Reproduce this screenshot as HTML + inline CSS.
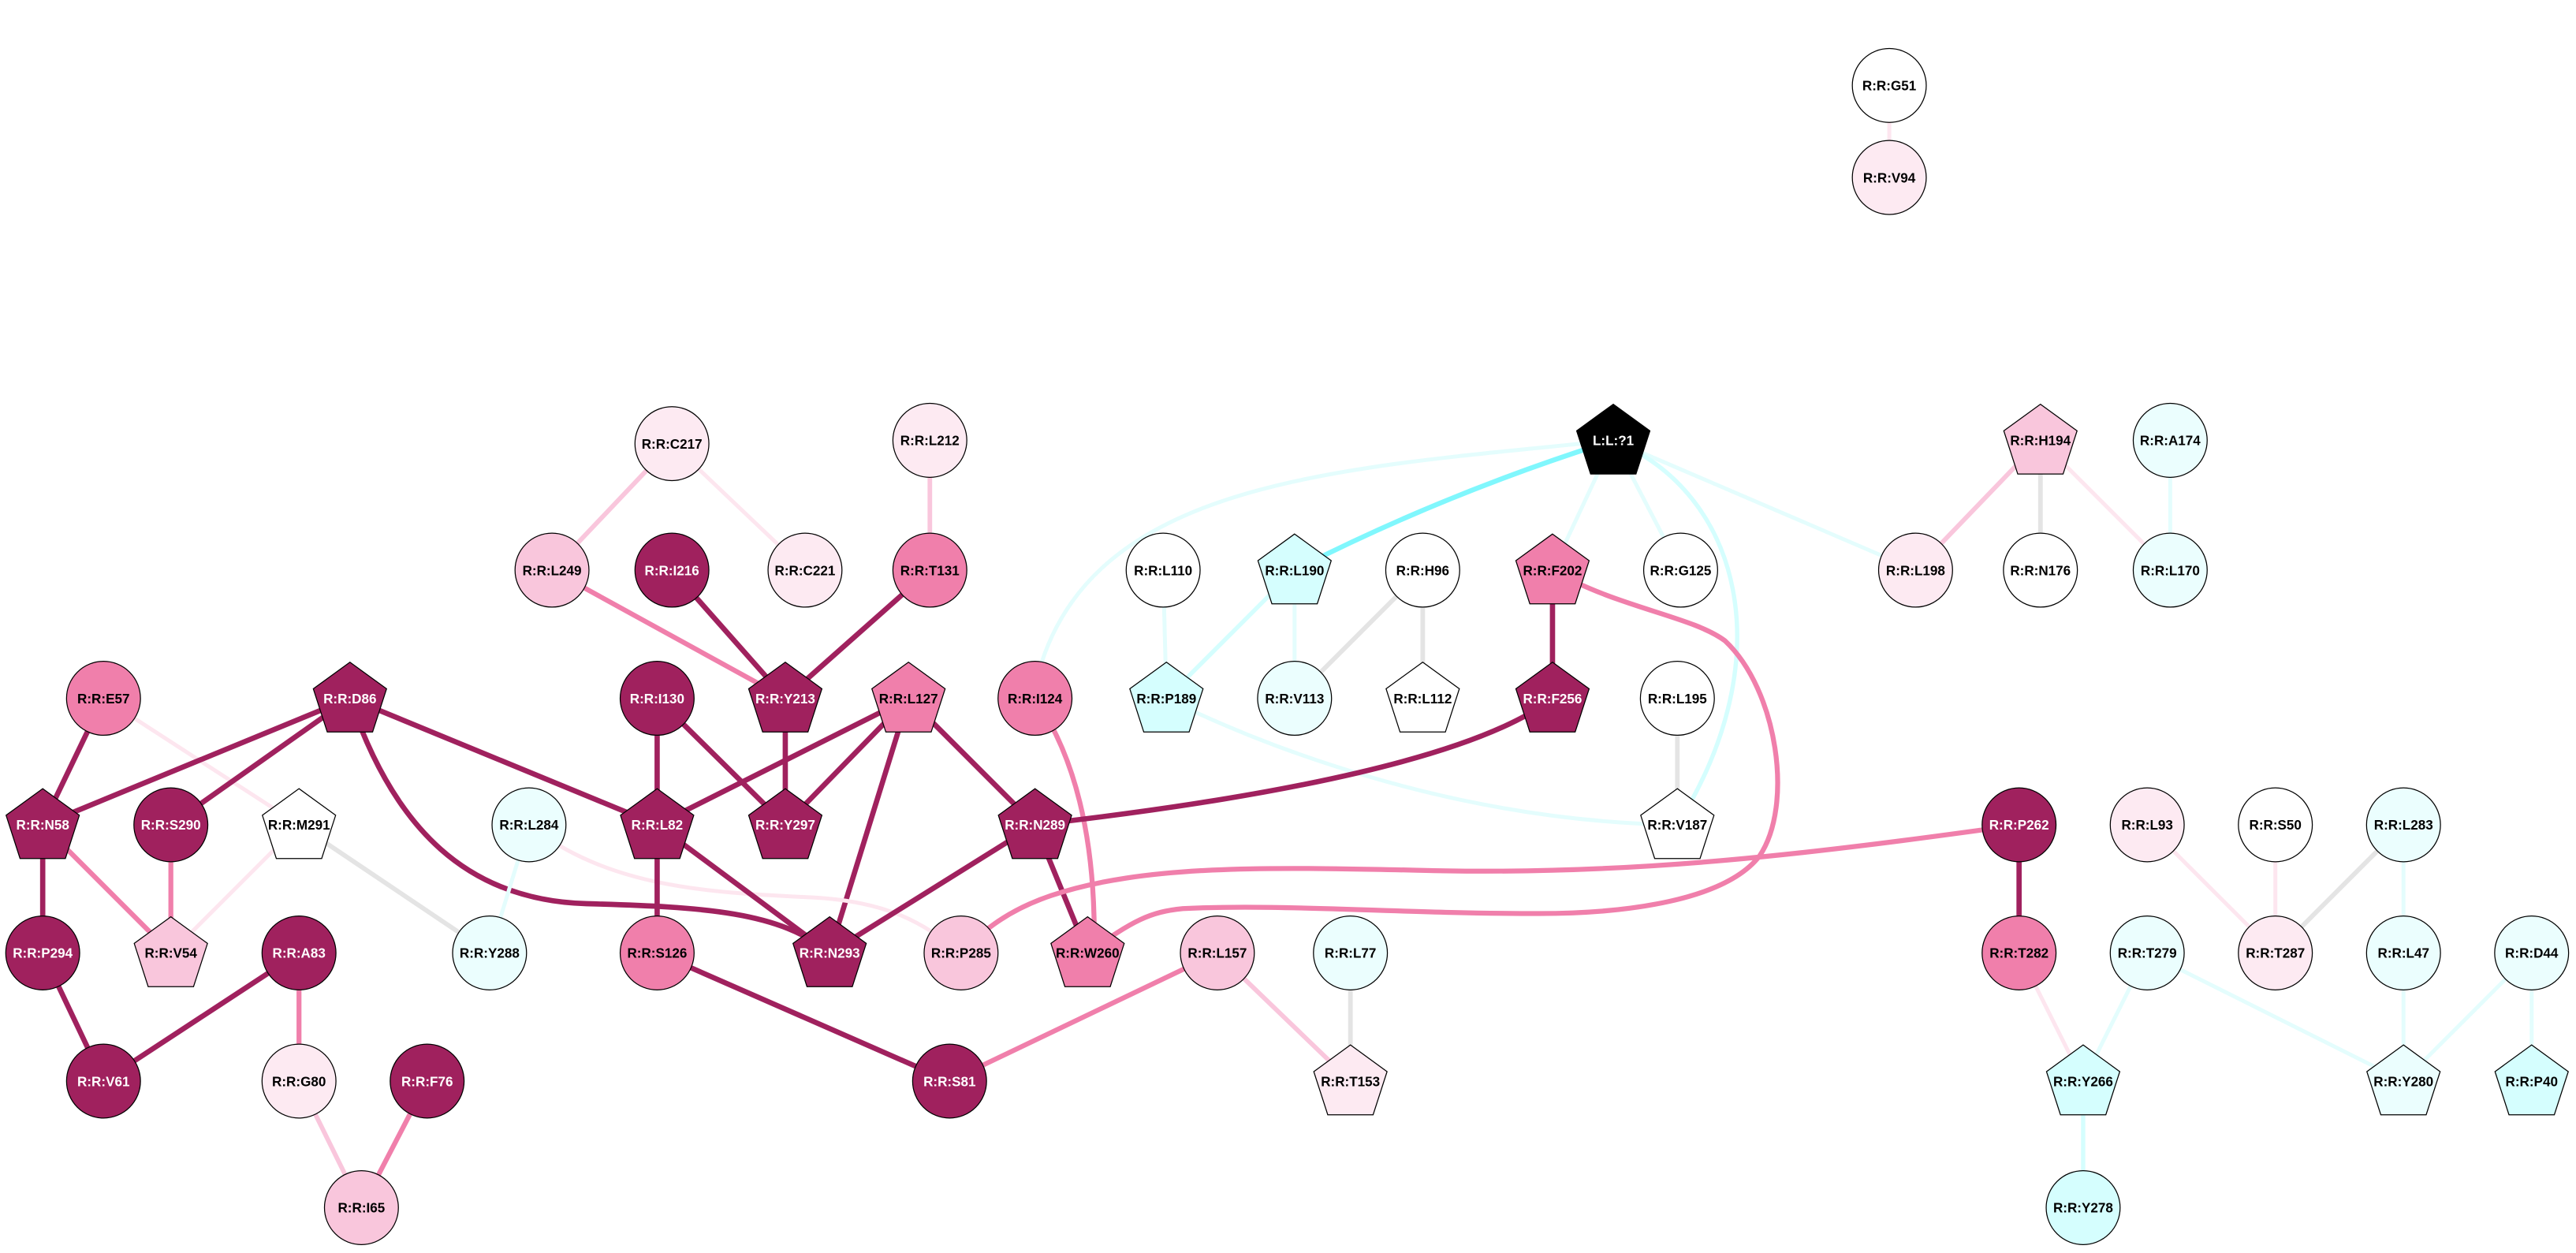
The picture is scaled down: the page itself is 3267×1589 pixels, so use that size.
<!DOCTYPE html>
<html><head><meta charset="utf-8"><style>html,body{margin:0;padding:0;background:#fff}svg{display:block}</style></head>
<body>
<svg id="s" xmlns="http://www.w3.org/2000/svg" width="3267" height="1589" viewBox="0 0 1568 762.6">
<rect width="1568" height="763" fill="#fff"/>
<g id="e" fill="none" stroke-linecap="butt"></g>
<g id="n"></g>
</svg>
<script>
const C={D:'#a0215e',M:'#f07fab',P:'#f9c6dc',L:'#fdeaf2',W:'#ffffff',C:'#d5fefe',c:'#ebfefe',K:'#000000'};
const N={
G51:[1150,52,'o','W'],V94:[1150,108,'o','L'],C217:[409,270,'o','L'],L212:[566,268,'o','L'],H194:[1242,268,'p','P'],A174:[1321,268,'o','c'],
'L:L:?1':[982,268,'p','K'],L249:[336,347,'o','P'],I216:[409,347,'o','D'],C221:[490,347,'o','L'],T131:[566,347,'o','M'],L110:[708,347,'o','W'],
L190:[788,347,'p','C'],H96:[866,347,'o','W'],F202:[945,347,'p','M'],G125:[1023,347,'o','W'],L198:[1166,347,'o','L'],N176:[1242,347,'o','W'],L170:[1321,347,'o','c'],
E57:[63,425,'o','M'],D86:[213,425,'p','D'],I130:[400,425,'o','D'],Y213:[478,425,'p','D'],L127:[553,425,'p','M'],I124:[630,425,'o','M'],P189:[710,425,'p','C'],
V113:[788,425,'o','c'],L112:[866,425,'p','W'],F256:[945,425,'p','D'],L195:[1021,425,'o','W'],
N58:[26,502,'p','D'],S290:[104,502,'o','D'],M291:[182,502,'p','W'],L284:[322,502,'o','c'],L82:[400,502,'p','D'],Y297:[478,502,'p','D'],N289:[630,502,'p','D'],
V187:[1021,502,'p','W'],P262:[1229,502,'o','D'],L93:[1307,502,'o','L'],S50:[1385,502,'o','W'],L283:[1463,502,'o','c'],
P294:[26,580,'o','D'],V54:[104,580,'p','P'],A83:[182,580,'o','D'],Y288:[298,580,'o','c'],S126:[400,580,'o','M'],N293:[505,580,'p','D'],P285:[585,580,'o','P'],
W260:[662,580,'p','M'],L157:[741,580,'o','P'],L77:[822,580,'o','c'],T282:[1229,580,'o','M'],T279:[1307,580,'o','c'],T287:[1385,580,'o','L'],L47:[1463,580,'o','c'],D44:[1541,580,'o','c'],
V61:[63,658,'o','D'],G80:[182,658,'o','L'],F76:[260,658,'o','D'],S81:[578,658,'o','D'],T153:[822,658,'p','L'],Y266:[1268,658,'p','C'],Y280:[1463,658,'p','c'],P40:[1541,658,'p','C'],
I65:[220,735,'o','P'],Y278:[1268,735,'o','C']};
const EC={D:['#a0215e',3.2],M:['#f07fab',3],P:['#f9c6dc',2.8],L:['#fde6ef',2.4],G:['#e4e4e4',2.8],C:['#d5fefe',2.6],B:['#80f7fd',3],c:['#e4fdfd',2.4]};
const E=[
['G51','V94','L'],['C217','L249','P'],['C217','C221','L'],['L212','T131','P'],['L249','Y213','M'],['I216','Y213','D'],['T131','Y213','D'],
['L:L:?1','I124','c','C 820 285 665 290 632 410'],['L:L:?1','L190','B','Q 880 300 788 347'],['L:L:?1','F202','c'],['L:L:?1','G125','c'],['L:L:?1','L198','c'],
['L:L:?1','V187','C','C 1060 300 1085 400 1021 502'],
['H194','L198','P'],['H194','N176','G'],['H194','L170','L'],['A174','L170','c'],['L110','P189','c'],['L190','P189','C'],['L190','V113','c'],['H96','V113','G'],['H96','L112','G'],
['F202','F256','D'],['F202','W260','M','C 985 370 1030 375 1050 390 C 1082 420 1092 490 1071 521 C 1050 548 990 556 937 556 C 850 556 780 550 720 553 C 700 555 690 560 662 580'],
['P189','V187','c','C 760 450 880 500 1021 502'],['L195','V187','G'],
['E57','N58','D'],['E57','M291','L'],['D86','N58','D'],['D86','S290','D'],['D86','L82','D'],['D86','N293','D','C 240 505 285 548 357 550 C 430 552 475 555 505 580'],
['I130','L82','D'],['I130','Y297','D'],['Y213','Y297','D'],['L127','L82','D'],['L127','Y297','D'],['L127','N293','D'],['L127','N289','D'],
['I124','W260','M','Q 668 480 666 580'],['F256','N289','D','C 900 460 780 485 630 502'],
['N58','V54','M'],['N58','P294','D'],['S290','V54','M'],['M291','V54','L'],['M291','Y288','G'],['L284','P285','L','C 370 540 430 543 490 546 C 545 548 565 565 585 580'],['L284','Y288','c'],
['L82','S126','D'],['L82','N293','D'],['N289','N293','D'],['N289','W260','D'],
['P262','P285','M','C 1100 520 1000 532 880 530 C 780 528 700 525 640 545 C 610 555 595 570 585 580'],['P262','T282','D'],['L93','T287','L'],['S50','T287','L'],['L283','T287','G'],['L283','L47','c'],
['P294','V61','D'],['A83','V61','D'],['A83','G80','M'],['G80','I65','P'],['F76','I65','M'],['S126','S81','D'],['L157','S81','M'],['L157','T153','P'],['L77','T153','G'],
['T282','Y266','L'],['T279','Y266','c'],['T279','Y280','c'],['L47','Y280','c'],['D44','Y280','c'],['D44','P40','c'],['Y266','Y278','C']];
const ns='http://www.w3.org/2000/svg';
const eg=document.getElementById('e'),ng=document.getElementById('n');
for(const [a,b,t,q] of E){const A=N[a],B=N[b];const p=document.createElementNS(ns,'path');
p.setAttribute('d',q?`M ${A[0]} ${A[1]} ${q}`:`M ${A[0]} ${A[1]} L ${B[0]} ${B[1]}`);
p.setAttribute('stroke',EC[t][0]);p.setAttribute('stroke-width',EC[t][1]);eg.appendChild(p);}
for(const k in N){const [x,y,s,c]=N[k];let el;
if(s==='o'){el=document.createElementNS(ns,'circle');el.setAttribute('cx',x);el.setAttribute('cy',y);el.setAttribute('r',22.5);}
else{el=document.createElementNS(ns,'polygon');const R=23.5,cy=y+1.5;let pts=[];for(let i=0;i<5;i++){const a=-Math.PI/2+i*2*Math.PI/5;pts.push((x+R*Math.cos(a)).toFixed(1)+','+(cy+R*Math.sin(a)).toFixed(1));}el.setAttribute('points',pts.join(' '));}
el.setAttribute('fill',C[c]);el.setAttribute('stroke','#000');el.setAttribute('stroke-width',0.6);ng.appendChild(el);
const t=document.createElementNS(ns,'text');t.setAttribute('x',x);t.setAttribute('y',y+3);t.setAttribute('text-anchor','middle');
t.setAttribute('font-family','Liberation Sans, Arial, sans-serif');t.setAttribute('font-weight','bold');t.setAttribute('font-size','8.2');
t.setAttribute('fill',(c==='D'||c==='K')?'#fff':'#000');t.textContent=k.startsWith('L:')?k:'R:R:'+k;ng.appendChild(t);}
</script>
</body></html>
